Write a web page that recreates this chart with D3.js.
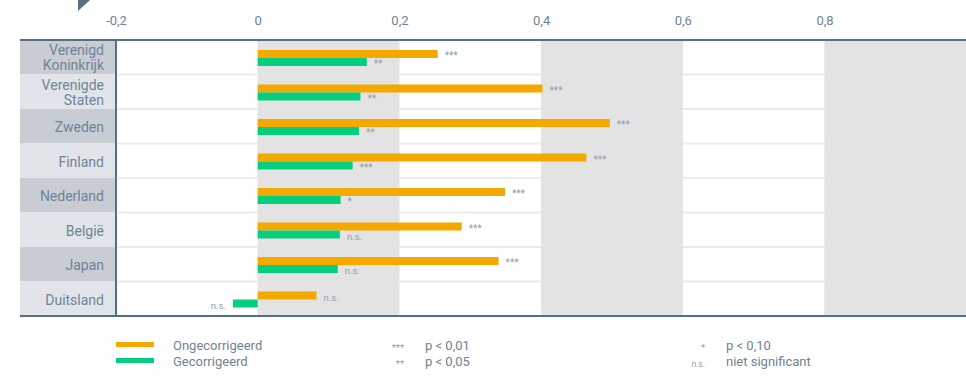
<!DOCTYPE html>
<html lang="nl">
<head>
  <meta charset="UTF-8">
  <title>Ongecorrigeerd / Gecorrigeerd</title>
  <script src="https://d3js.org/d3.v7.min.js"></script>
  <style>
    body { margin: 0; background: #fff; }
    text { font-family: Roboto, "Noto Sans", sans-serif; }
  </style>
</head>
<body>
<script>
  // data
  const countries = ["Verenigd Koninkrijk", "Verenigde Staten", "Zweden", "Finland", "Nederland", "België", "Japan", "Duitsland"];
  const ongecorrigeerd = [0.254, 0.402, 0.497, 0.464, 0.349, 0.288, 0.340, 0.083];
  const gecorrigeerd = [0.154, 0.145, 0.143, 0.134, 0.117, 0.116, 0.113, -0.035];
  const sigOngecorrigeerd = ["***", "***", "***", "***", "***", "***", "***", "n.s."];
  const sigGecorrigeerd = ["**", "**", "**", "***", "*", "n.s.", "n.s.", "n.s."];
  const ticks = [-0.2, 0, 0.2, 0.4, 0.6, 0.8];
  const seriesNames = ["Ongecorrigeerd", "Gecorrigeerd"];
  const sigKeys = ["***", "**", "*", "n.s."];
  const sigLabels = ["p < 0,01", "p < 0,05", "p < 0,10", "niet significant"];

  const width = 966, height = 390;
  const orange = "#f5a800", green = "#05cf7e", slate = "#557085", txt = "#6e8497";

  const svg = d3.select("body").append("svg")
    .attr("width", width)
    .attr("height", height);

  // x schaal: 0 ligt op 257, 0,2 per ~141.7px
  const x = d3.scaleLinear().domain([-0.2, 1.0]).range([116, 966.2]);
  const y = d3.scaleBand().domain(countries).range([40, 316]);

  // achtergrondbanden
  const bands = d3.range(-0.2, 1.0, 0.2).map((d, i) => ({ from: d, to: d + 0.2, grey: i % 2 === 1 }));
  svg.append("g").selectAll("rect")
    .data(bands)
    .enter().append("rect")
    .attr("x", d => x(d.from))
    .attr("y", 40)
    .attr("width", d => x(d.to) - x(d.from))
    .attr("height", 276)
    .attr("fill", d => d.grey ? "#e3e3e3" : "#fff");

  // rij-scheidingslijnen in de witte banden
  svg.append("g").selectAll("line")
    .data(countries.slice(1))
    .enter().append("line")
    .attr("x1", 118)
    .attr("x2", width)
    .attr("y1", d => y(d))
    .attr("y2", d => y(d))
    .attr("stroke", "#ebebeb")
    .attr("stroke-width", 2);
  // in de grijze banden niet zichtbaar: opnieuw grijs overschilderen
  svg.append("g").selectAll("rect")
    .data(bands.filter(d => d.grey))
    .enter().append("rect")
    .attr("x", d => x(d.from))
    .attr("y", 41)
    .attr("width", d => x(d.to) - x(d.from))
    .attr("height", 274)
    .attr("fill", "#e3e3e3");

  // labelkolom
  const rows = svg.append("g");
  rows.selectAll("rect")
    .data(countries)
    .enter().append("rect")
    .attr("x", 20)
    .attr("y", d => y(d))
    .attr("width", 96)
    .attr("height", y.bandwidth())
    .attr("fill", (d, i) => i % 2 === 0 ? "#c8cdd4" : "#e1e5e9");

  rows.selectAll("text")
    .data(countries)
    .enter().append("text")
    .attr("text-anchor", "end")
    .attr("font-size", 14)
    .attr("fill", txt)
    .each(function (d) {
      const words = d.split(" ");
      const t = d3.select(this);
      const mid = y(d) + y.bandwidth() / 2;
      if (words.length === 1) {
        t.append("tspan").attr("x", 104).attr("y", mid + 6).text(d);
      } else {
        t.append("tspan").attr("x", 104).attr("y", mid - 2).text(words[0]);
        t.append("tspan").attr("x", 104).attr("y", mid + 13).text(words[1]);
      }
    });

  // balken
  const bars = svg.append("g");
  bars.selectAll(".ong")
    .data(countries)
    .enter().append("rect")
    .attr("class", "ong")
    .attr("x", (d, i) => Math.min(x(0), x(ongecorrigeerd[i])))
    .attr("y", d => y(d) + 10)
    .attr("width", (d, i) => Math.abs(x(ongecorrigeerd[i]) - x(0)))
    .attr("height", 8)
    .attr("fill", orange);
  bars.selectAll(".gec")
    .data(countries)
    .enter().append("rect")
    .attr("class", "gec")
    .attr("x", (d, i) => Math.min(x(0), x(gecorrigeerd[i])))
    .attr("y", d => y(d) + 18)
    .attr("width", (d, i) => Math.abs(x(gecorrigeerd[i]) - x(0)))
    .attr("height", 8)
    .attr("fill", green);

  // significantie-labels
  function sigText(values, sig, offset) {
    bars.selectAll(null)
      .data(countries)
      .enter().append("text")
      .attr("x", (d, i) => values[i] < 0 ? x(values[i]) - 7 : x(values[i]) + 7)
      .attr("y", d => y(d) + offset)
      .attr("text-anchor", (d, i) => values[i] < 0 ? "end" : "start")
      .attr("font-size", (d, i) => sig[i] === "n.s." ? 9.5 : 10)
      .attr("fill", "#8a9fb0")
      .text((d, i) => sig[i]);
  }
  sigText(ongecorrigeerd, sigOngecorrigeerd, 19);
  sigText(gecorrigeerd, sigGecorrigeerd, 27);

  // assen en randen
  svg.append("line").attr("x1", 20).attr("x2", width).attr("y1", 40).attr("y2", 40)
    .attr("stroke", slate).attr("stroke-width", 2);
  svg.append("line").attr("x1", 20).attr("x2", width).attr("y1", 316).attr("y2", 316)
    .attr("stroke", slate).attr("stroke-width", 2);
  svg.append("line").attr("x1", 116).attr("x2", 116).attr("y1", 40).attr("y2", 316)
    .attr("stroke", slate).attr("stroke-width", 2);

  const axis = d3.axisTop(x)
    .tickValues(ticks)
    .tickSize(0)
    .tickFormat(d => d3.format(".1f")(d).replace(".", ",").replace("0,0", "0").replace("−", "-"));
  const ax = svg.append("g").attr("transform", "translate(0,28)").call(axis);
  ax.select(".domain").remove();
  ax.selectAll("text")
    .attr("font-size", 13)
    .attr("fill", txt)
    .attr("font-family", "Roboto, sans-serif");

  // driehoekje linksboven
  svg.append("path")
    .attr("d", "M78,0 L90,0 L78,11 Z")
    .attr("fill", slate);

  // legenda
  const leg = svg.append("g");
  leg.selectAll("rect")
    .data(seriesNames)
    .enter().append("rect")
    .attr("x", 116)
    .attr("y", (d, i) => 342 + i * 16)
    .attr("width", 38)
    .attr("height", 5)
    .attr("fill", (d, i) => i === 0 ? orange : green);
  leg.selectAll(".sname")
    .data(seriesNames)
    .enter().append("text")
    .attr("class", "sname")
    .attr("x", 173)
    .attr("y", (d, i) => 350 + i * 16)
    .attr("font-size", 13)
    .attr("fill", txt)
    .text(d => d);

  const keyX = [404, 404, 705, 705];
  leg.selectAll(".skey")
    .data(sigKeys)
    .enter().append("text")
    .attr("class", "skey")
    .attr("x", (d, i) => keyX[i])
    .attr("y", (d, i) => 351 + (i % 2) * 16)
    .attr("text-anchor", "end")
    .attr("font-size", d => d === "n.s." ? 8.5 : 9.5)
    .attr("fill", "#8a9fb0")
    .text(d => d);
  leg.selectAll(".slab")
    .data(sigLabels)
    .enter().append("text")
    .attr("class", "slab")
    .attr("x", (d, i) => keyX[i] + 21)
    .attr("y", (d, i) => 350 + (i % 2) * 16)
    .attr("font-size", 13)
    .attr("fill", txt)
    .text(d => d);
</script>
</body>
</html>
